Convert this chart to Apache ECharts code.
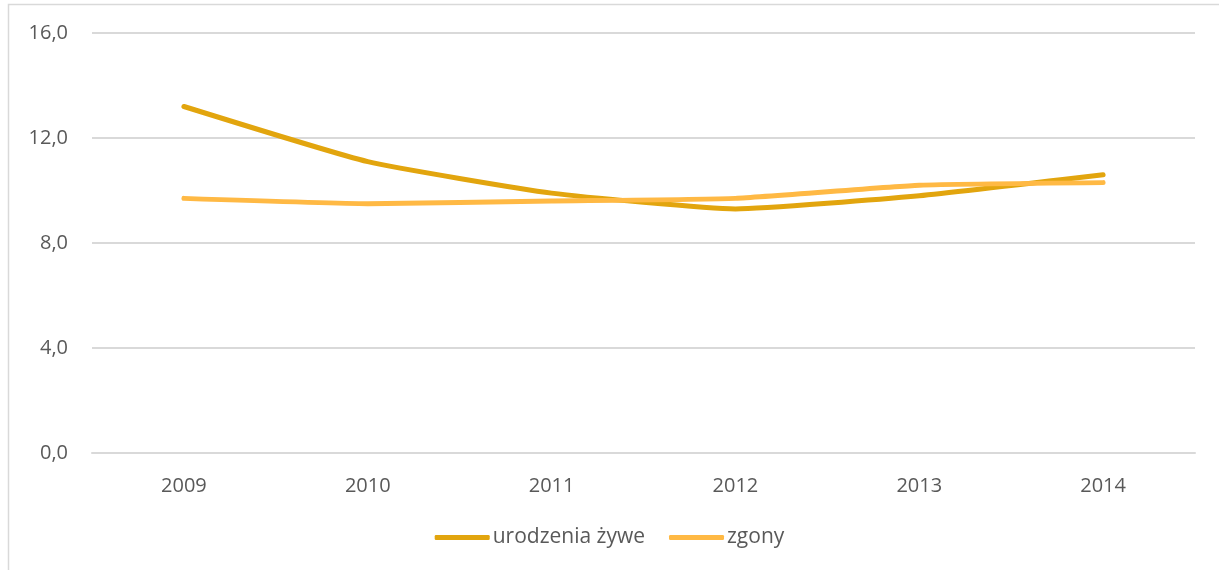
<!DOCTYPE html>
<html>
<head>
<meta charset="utf-8">
<script src="https://cdn.jsdelivr.net/npm/echarts@6/dist/echarts.min.js"></script>
<style>
  html, body { margin: 0; padding: 0; background: #fff; }
  #chart { width: 1219px; height: 570px; }
</style>
</head>
<body>
<div id="chart"></div>
<script>
const years = ["2009", "2010", "2011", "2012", "2013", "2014"];
const urodzenia = [13.2, 11.1, 9.9, 9.3, 9.8, 10.6];
const zgony = [9.7, 9.5, 9.6, 9.7, 10.2, 10.3];
const seriesNames = ["urodzenia żywe", "zgony"];

const chart = echarts.init(document.querySelector("#chart"));

const fmt = (v) => v.toFixed(1).replace(".", ",");

chart.setOption({
  animation: false,
  textStyle: { fontFamily: "Open Sans", color: "#595959" },
  graphic: [
    {
      type: "rect",
      shape: { x: 8.5, y: 4.5, width: 1400, height: 800 },
      style: { fill: "none", stroke: "#d9d9d9", lineWidth: 1.5 },
      silent: true
    }
  ],
  grid: { left: 92, right: 24, top: 33, bottom: 117 },
  legend: {
    bottom: 17,
    left: "center",
    itemWidth: 55,
    itemHeight: 5,
    itemGap: 24,
    icon: "roundRect",
    textStyle: { fontSize: 21, color: "#595959", padding: [0, 0, 0, -2] },
    data: seriesNames
  },
  xAxis: {
    type: "category",
    data: years,
    axisLine: { lineStyle: { color: "#d9d9d9", width: 2 } },
    axisTick: { show: false },
    axisLabel: { fontSize: 20, color: "#595959", margin: 23 }
  },
  yAxis: {
    type: "value",
    min: 0,
    max: 16,
    interval: 4,
    axisLine: { show: false },
    axisTick: { show: false },
    axisLabel: { fontSize: 20, color: "#595959", margin: 24, formatter: fmt },
    splitLine: { lineStyle: { color: "#d9d9d9", width: 2 } }
  },
  series: [
    {
      name: seriesNames[0],
      type: "line",
      data: urodzenia,
      smooth: 0.15,
      showSymbol: false,
      symbol: "none",
      color: "#E2A50E",
      lineStyle: { width: 5, cap: "round", join: "round" },
      z: 3
    },
    {
      name: seriesNames[1],
      type: "line",
      data: zgony,
      smooth: 0.15,
      showSymbol: false,
      symbol: "none",
      color: "#FFB944",
      lineStyle: { width: 5, cap: "round", join: "round" },
      z: 4
    }
  ]
});
</script>
</body>
</html>
